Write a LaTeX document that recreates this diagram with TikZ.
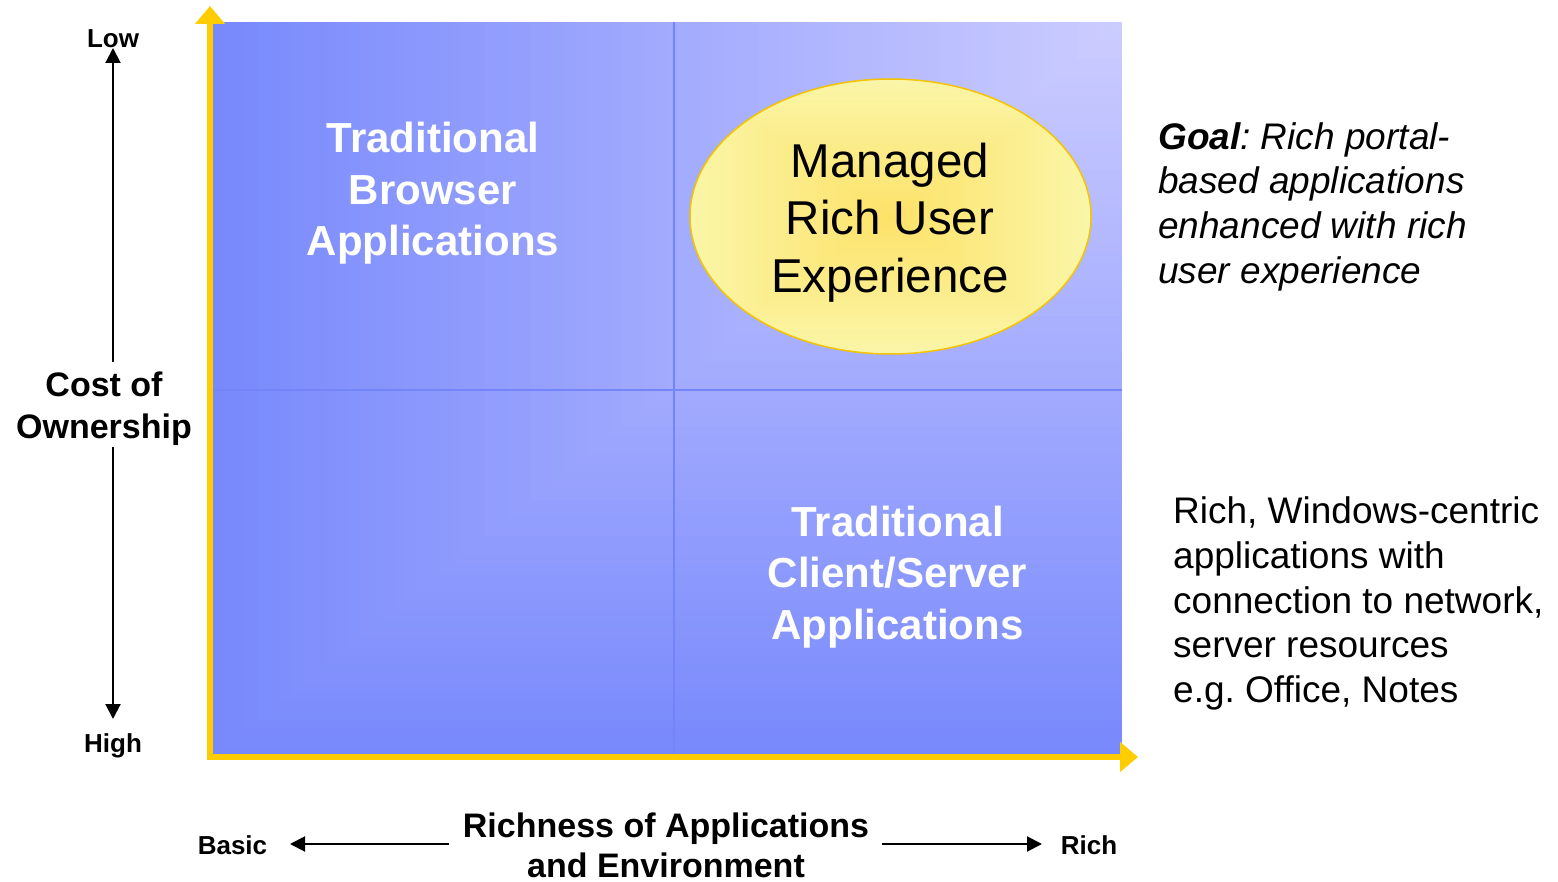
\documentclass[tikz,border=0pt]{standalone}
\usepackage{fontspec}
\setmainfont{Liberation Sans}
\usetikzlibrary{arrows.meta,shapes.geometric}
\frenchspacing
\definecolor{bgLight}{RGB}{205,205,255}
\definecolor{bgDark}{RGB}{120,137,252}
\definecolor{axisYellow}{RGB}{255,204,0}
\definecolor{elOuter}{RGB}{250,246,168}
\definecolor{elInner}{RGB}{253,226,105}
\definecolor{elBorder}{RGB}{245,196,0}
\definecolor{divLine}{RGB}{116,133,250}
\begin{document}
\begin{tikzpicture}[x=1pt,y=-1pt,
  quadlabel/.style={text=white, font=\bfseries\fontsize{42}{51.5}\selectfont, align=center, inner sep=0pt},
  axislabel/.style={font=\bfseries\fontsize{26}{31}\selectfont, inner sep=0pt},
  axistitle/.style={font=\bfseries\fontsize{34}{42}\selectfont, align=center, inner sep=0pt},
  sidetext/.style={font=\fontsize{37}{44.75}\selectfont, align=left, inner sep=0pt, anchor=north west},
  axisline/.style={draw=axisYellow, line width=6.5pt, -{Triangle[length=18pt,width=29pt]}},
  blackarrow/.style={draw=black, line width=2pt, -{Triangle[length=15pt,width=15pt]}},
  divider/.style={draw=divLine, line width=2pt}
]
\useasboundingbox (0,0) rectangle (1558,882);
% background gradient (from top-right corner)
\foreach \i in {80,79,...,1} {
  \pgfmathtruncatemacro\p{100-100*(\i/80)}
  \pgfmathsetmacro\w{910*(\i/80)}
  \pgfmathsetmacro\h{735*(\i/80)}
  \fill[bgLight!\p!bgDark] (1122-\w,22) rectangle (1122,22+\h);
}
% quadrant dividers
\coordinate (vtop) at (674,22);
\coordinate (vbot) at (674,757);
\coordinate (hleft) at (212,390);
\coordinate (hright) at (1122,390);
\draw[divider] (vtop) -- (vbot);
\draw[divider] (hleft) -- (hright);
% ellipse
\node[ellipse, draw=elBorder, line width=1.5pt, minimum width=401pt, minimum height=275pt, inner sep=0pt,
  path picture={
    \foreach \i in {40,39,...,1} {
      \pgfmathtruncatemacro\q{100*(\i/40)}
      \fill[elOuter!\q!elInner] ([shift={(-5.0125*\i,-3.4375*\i)}]path picture bounding box.center) rectangle ([shift={(5.0125*\i,3.4375*\i)}]path picture bounding box.center);
    }
  }] (mrue) at (890.5,216.5) {};
\node[font=\fontsize{47.5}{57.5}\selectfont, align=center, inner sep=0pt] (mrueLabel) at (890,222.5) {Managed\\Rich User\\Experience};
% quadrant labels
\node[quadlabel] (tba) at (433,193.3) {Traditional\\Browser\\Applications};
\node[quadlabel] (tcs) at (897.5,577) {Traditional\\Client/Server\\Applications};
% axes
\coordinate (yStart) at (210,760);
\coordinate (yTip) at (210,6);
\coordinate (xStart) at (207,757);
\coordinate (xTip) at (1138,757);
\draw[axisline] (yStart) -- (yTip);
\draw[axisline] (xStart) -- (xTip);
% vertical axis labels
\node[axislabel] (low) at (113,38.5) {Low};
\node[axislabel] (high) at (113,746.3) {High};
\node[axistitle] (cost) at (104,409) {Cost of\\Ownership};
\coordinate (lowTip) at (113,48);
\coordinate (costTop) at (113,362);
\coordinate (costBot) at (113,447);
\coordinate (highTip) at (113,719);
\draw[blackarrow] (costTop) -- (lowTip);
\draw[blackarrow] (costBot) -- (highTip);
% horizontal axis labels
\node[axislabel] (basic) at (232.5,845) {Basic};
\node[axislabel] (rich) at (1089,845) {Rich};
\node[axistitle, font=\bfseries\fontsize{34}{40}\selectfont] (richness) at (666,845.5) {Richness of Applications\\and Environment};
\coordinate (lArrStart) at (449,844);
\coordinate (basicTip) at (290,844);
\coordinate (rArrStart) at (882,844);
\coordinate (richTip) at (1042,844);
\draw[blackarrow] (lArrStart) -- (basicTip);
\draw[blackarrow] (rArrStart) -- (richTip);
% side texts
\node[sidetext, font=\itshape\fontsize{37}{44.75}\selectfont] (goal) at (1158,122) {\textbf{Goal}: Rich portal-\\based applications\\enhanced with rich\\user experience};
\node[sidetext] (richapps) at (1173,496.5) {Rich, Windows-centric\\applications with\\connection to network,\\server resources\\e.g. Office, Notes};
\end{tikzpicture}
\end{document}
